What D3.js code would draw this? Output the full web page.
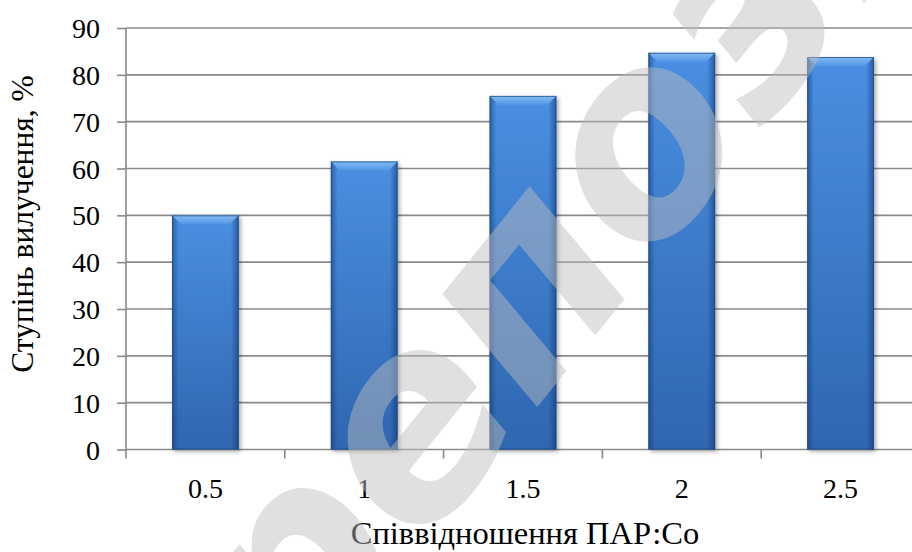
<!DOCTYPE html>
<html>
<head>
<meta charset="utf-8">
<script src="https://cdn.jsdelivr.net/npm/d3@7"></script>
<style>
  html, body { margin: 0; padding: 0; background: #fff; }
  svg { display: block; }
  .serif { font-family: "Liberation Serif", "Times New Roman", Tinos, "DejaVu Serif", "Noto Serif", serif; }
</style>
</head>
<body>
<svg id="chart" width="912" height="552"></svg>
<script>
// Ratio of surfactant to cobalt vs. extraction degree
const categories = ["0.5", "1", "1.5", "2", "2.5"];
const values = [50.0, 61.5, 75.5, 84.7, 83.8];
const yTickValues = [0, 10, 20, 30, 40, 50, 60, 70, 80, 90];
const xTitle = "Співвідношення ПАР:Со";
const yTitle = "Ступінь вилучення, %";
const stampText = "репозиторий";

const svg = d3.select("#chart");
const plot = { left: 126, right: 920, top: 28, bottom: 449.5 };

const x = d3.scaleBand()
  .domain(categories)
  .range([plot.left, plot.right])
  .paddingInner(0.58)
  .paddingOuter(0.29);

const y = d3.scaleLinear()
  .domain([0, 90])
  .range([plot.bottom, plot.top]);

// ---- gradients and shadow for bevelled bars ----
const defs = svg.append("defs");

const body = defs.append("linearGradient").attr("id", "barBody")
  .attr("x1", 0).attr("y1", 0).attr("x2", 0).attr("y2", 1);
body.append("stop").attr("offset", 0).attr("stop-color", "#4a8fe2");
body.append("stop").attr("offset", 1).attr("stop-color", "#2f66b0");

const sides = defs.append("linearGradient").attr("id", "barSides")
  .attr("x1", 0).attr("y1", 0).attr("x2", 1).attr("y2", 0);
sides.append("stop").attr("offset", 0).attr("stop-color", "#12386e").attr("stop-opacity", 0.55);
sides.append("stop").attr("offset", 0.1).attr("stop-color", "#12386e").attr("stop-opacity", 0);
sides.append("stop").attr("offset", 0.88).attr("stop-color", "#12386e").attr("stop-opacity", 0);
sides.append("stop").attr("offset", 1).attr("stop-color", "#12386e").attr("stop-opacity", 0.6);

const bevel = defs.append("linearGradient").attr("id", "barBevel")
  .attr("x1", 0).attr("y1", 0).attr("x2", 0).attr("y2", 1);
bevel.append("stop").attr("offset", 0).attr("stop-color", "#8cc2f6");
bevel.append("stop").attr("offset", 1).attr("stop-color", "#5196e4");

const shadow = defs.append("filter").attr("id", "barShadow")
  .attr("x", "-20%").attr("y", "-5%").attr("width", "150%").attr("height", "115%");
shadow.append("feDropShadow")
  .attr("dx", 2).attr("dy", 2).attr("stdDeviation", 2.2)
  .attr("flood-color", "#000").attr("flood-opacity", 0.35);

// ---- gridlines ----
svg.append("g")
  .selectAll("line")
  .data(yTickValues)
  .join("line")
  .attr("x1", plot.left).attr("x2", plot.right)
  .attr("y1", d => y(d)).attr("y2", d => y(d))
  .attr("stroke", "#8a8a8a").attr("stroke-width", 1.6);

// ---- y axis ----
const yAxis = svg.append("g")
  .attr("transform", `translate(${plot.left},0)`)
  .call(d3.axisLeft(y).tickValues(yTickValues).tickSize(9).tickPadding(17).tickFormat(d3.format("d")));
yAxis.attr("font-family", null).attr("font-size", null);
yAxis.select(".domain").attr("stroke", "#8a8a8a").attr("stroke-width", 1.6)
  .attr("d", `M0,${plot.top}V${plot.bottom + 9}`);
yAxis.selectAll(".tick line").attr("stroke", "#8a8a8a").attr("stroke-width", 1.6);
yAxis.selectAll(".tick text")
  .attr("class", "serif").attr("font-size", 28).attr("fill", "#000")
  .attr("dy", "0.34em");

// ---- x axis: ticks at category boundaries ----
const xAxisG = svg.append("g").attr("transform", `translate(0,${plot.bottom})`);
const boundaries = categories.slice(1).map(c => x(c) - x.step() * x.paddingInner() / 2);
xAxisG.selectAll("line.tk")
  .data(boundaries)
  .join("line")
  .attr("class", "tk")
  .attr("x1", d => d).attr("x2", d => d)
  .attr("y1", 0).attr("y2", 9)
  .attr("stroke", "#8a8a8a").attr("stroke-width", 1.6);
xAxisG.selectAll("text")
  .data(categories)
  .join("text")
  .attr("class", "serif")
  .attr("x", d => x(d) + x.bandwidth() / 2)
  .attr("y", 48.5)
  .attr("text-anchor", "middle")
  .attr("font-size", 28).attr("fill", "#000")
  .text(d => d);

// ---- bars ----
const bars = svg.append("g")
  .selectAll("g.bar")
  .data(categories.map((c, i) => ({ c, v: values[i] })))
  .join("g")
  .attr("class", "bar");

bars.append("rect")
  .attr("x", d => x(d.c)).attr("y", d => y(d.v))
  .attr("width", x.bandwidth()).attr("height", d => y(0) - y(d.v))
  .attr("fill", "url(#barBody)")
  .attr("filter", "url(#barShadow)");

bars.append("rect")
  .attr("x", d => x(d.c)).attr("y", d => y(d.v))
  .attr("width", x.bandwidth()).attr("height", d => y(0) - y(d.v))
  .attr("fill", "url(#barSides)");

const b = 9;
bars.append("path")
  .attr("d", d => {
    const x0 = x(d.c), x1 = x0 + x.bandwidth(), y0 = y(d.v);
    return `M${x0},${y0}L${x1},${y0}L${x1 - b},${y0 + b}L${x0 + b},${y0 + b}Z`;
  })
  .attr("fill", "url(#barBevel)")
  .attr("opacity", 0.9);

bars.append("rect")
  .attr("x", d => x(d.c) + 0.5).attr("y", d => y(d.v) + 0.5)
  .attr("width", x.bandwidth() - 1).attr("height", d => y(0) - y(d.v) - 1)
  .attr("fill", "none")
  .attr("stroke", "#1f4b86").attr("stroke-width", 1).attr("stroke-opacity", 0.75);

// ---- axis titles ----
svg.append("text")
  .attr("class", "serif")
  .attr("x", 525).attr("y", 544)
  .attr("text-anchor", "middle")
  .attr("font-size", 32.5).attr("fill", "#000")
  .text(xTitle);

svg.append("text")
  .attr("class", "serif")
  .attr("transform", "translate(33,224) rotate(-90)")
  .attr("text-anchor", "middle")
  .attr("font-size", 31.5).attr("fill", "#000")
  .text(yTitle);

// ---- diagonal stamp over the chart ----
svg.append("text")
  .attr("transform", "translate(300,700) rotate(-51)")
  .attr("font-family", "'DejaVu Sans', sans-serif")
  .attr("font-weight", "bold").attr("font-style", "italic")
  .attr("font-size", 265)
  .attr("fill", "#bdbdbd").attr("fill-opacity", 0.47)
  .text(stampText);
</script>
</body>
</html>
